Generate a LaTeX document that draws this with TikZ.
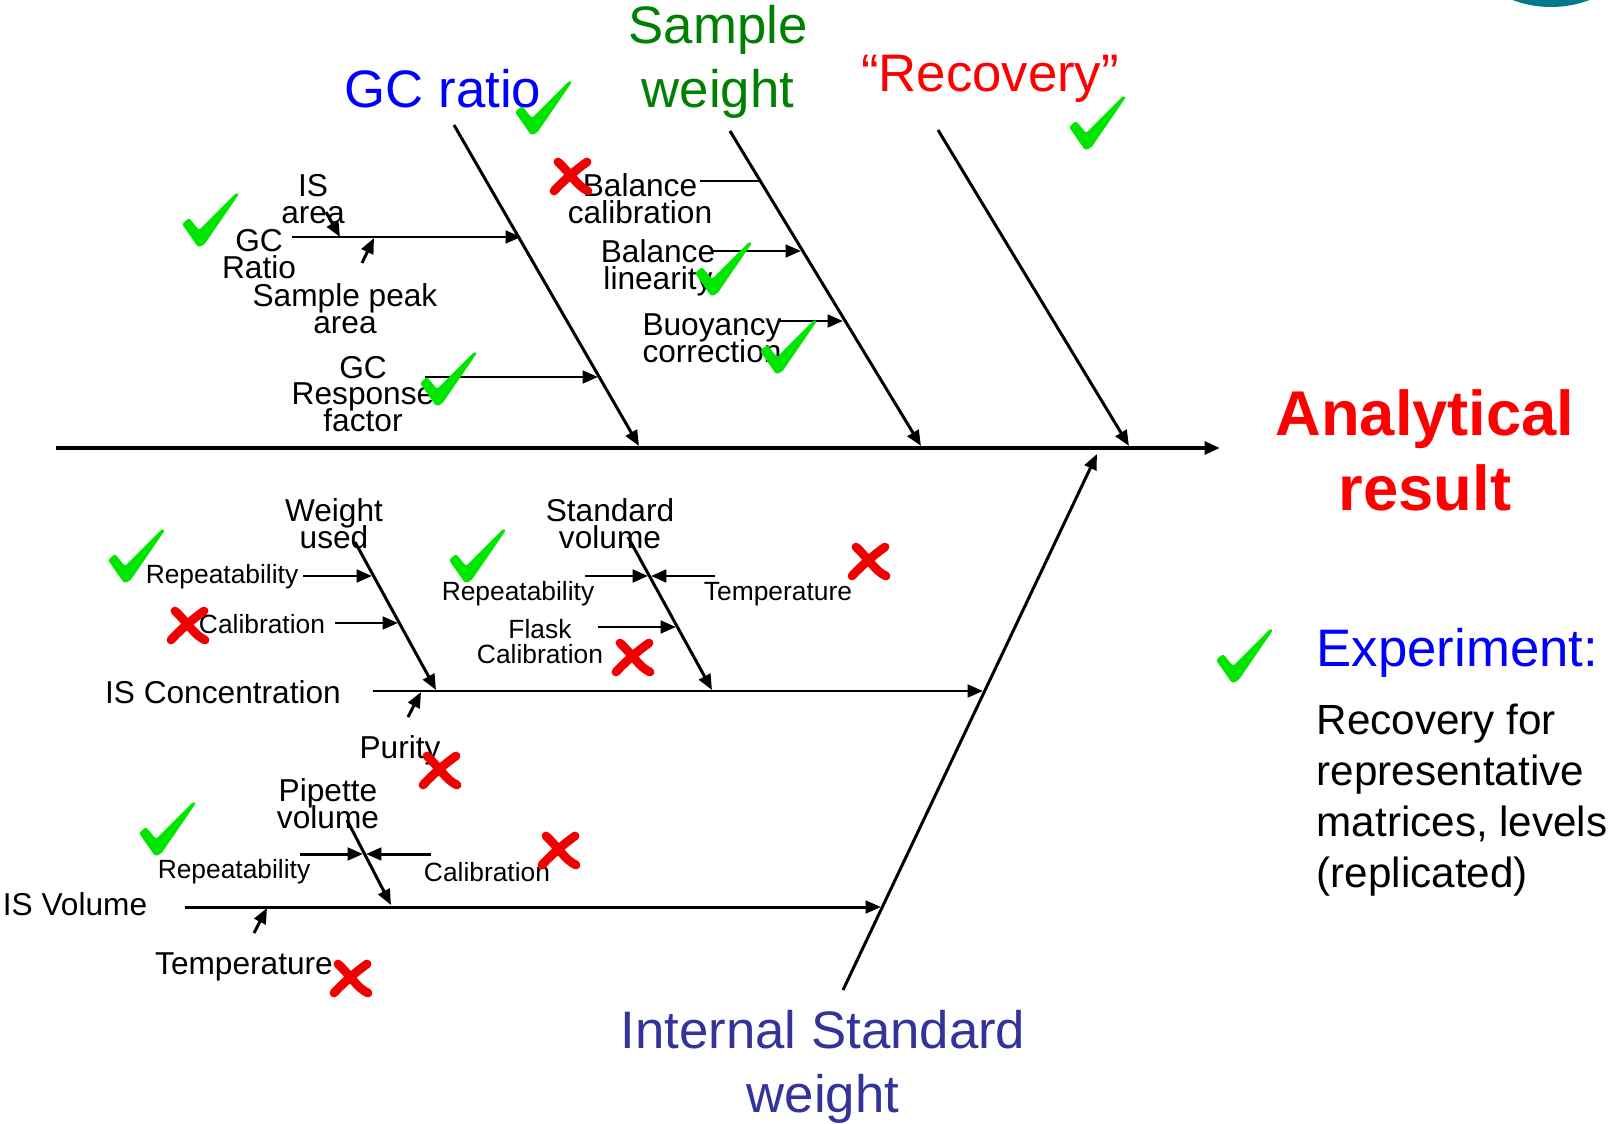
\documentclass[tikz,border=0pt]{standalone}
\usepackage{fontspec}
\setmainfont{Liberation Sans}
\usepackage{tikz}
\usetikzlibrary{arrows.meta,positioning}
\definecolor{tickgreen}{RGB}{0,230,0}
\definecolor{crossred}{RGB}{240,0,0}
\definecolor{gcblue}{RGB}{0,0,255}
\definecolor{swgreen}{RGB}{0,128,0}
\definecolor{recred}{RGB}{255,0,0}
\definecolor{isnavy}{RGB}{51,51,153}
\definecolor{logoteal}{RGB}{0,122,138}
\newcommand{\tightlines}{\lineskiplimit=-20pt\relax}
\tikzset{
	spine/.style={line width=1.15pt,->},
	bone/.style={line width=0.85pt,->},
	sub/.style={line width=0.85pt,->},
	head/.style={font=\fontsize{15}{18}\selectfont,align=center,inner sep=0pt},
	lbl/.style={font=\fontsize{9}{7.6}\selectfont\tightlines,align=center,inner sep=0pt},
	tinylbl/.style={font=\fontsize{7.5}{7.1}\selectfont\tightlines,align=center,inner sep=0pt},
	okmark/.pic={\fill[tickgreen,rounded corners=0.6pt] (-28,4) -- (-21,-2) -- (-11,10) -- (26,-27) -- (29,-26) -- (-6,25) -- (-12,27) -- cycle;},
	nomark/.pic={\draw[crossred,line width=2.5pt,line cap=round] (-13,-15) .. controls (0,-3) and (6,9) .. (17,14);
		\draw[crossred,line width=2.5pt,line cap=round] (16,-15) .. controls (6,-8) and (-8,4) .. (-17,14);}
}

\begin{document}
\begin{tikzpicture}[x=0.01cm,y=-0.01cm,>={Triangle[length=4.4pt,width=3.6pt]}]
	\useasboundingbox (0,0) rectangle (1608,1124);
	% logo corner
	\begin{scope}
		\clip (0,0) rectangle (1608,1124);
		\fill[logoteal] (1551,-102) circle (109);
	\end{scope}

	% main spine and big bones
	\coordinate (spL) at (56,448);
	\coordinate (spR) at (1220,448);
	\coordinate (gcT) at (454,125);
	\coordinate (gcB) at (639,446);
	\coordinate (swT) at (730,131);
	\coordinate (swB) at (921,446);
	\coordinate (rcT) at (938,130);
	\coordinate (rcB) at (1129,446);
	\coordinate (isB) at (843,990);
	\coordinate (isT) at (1097,454);
	\draw[spine] (spL) -- (spR);
	\draw[bone] (gcT) -- (gcB);
	\draw[bone] (swT) -- (swB);
	\draw[bone] (rcT) -- (rcB);
	\draw[bone] (isB) -- (isT);

	% headings
	\node[head,text=gcblue] (gcratio) at (443,89) {GC ratio};
	\node[head,text=swgreen] (sampwt) at (718,62) {Sample\\weight};
	\node[head,text=recred] (recov) at (990,79) {“Recovery”};
	\node[font=\bfseries\fontsize{18}{21.3}\selectfont,text=recred,align=center,inner sep=0pt] (result) at (1425,450) {Analytical\\result};
	\node[head,text=isnavy] (iswt) at (823,1067) {Internal Standard\\weight};
	\node[head,text=gcblue,anchor=west] (expt) at (1316,653) {Experiment:};
	\node[font=\fontsize{12}{14.5}\selectfont,align=left,anchor=north west,inner sep=0pt] (expbody) at (1316,703) {Recovery for\\representative\\matrices, levels\\(replicated)};

	% GC ratio branch
	\coordinate (gcrA) at (292,237);
	\coordinate (gcrZ) at (521,237);
	\coordinate (isaA) at (326,212);
	\coordinate (isaZ) at (340,237);
	\coordinate (pkA) at (362,263);
	\coordinate (pkZ) at (374,238);
	\coordinate (rfA) at (425,377);
	\coordinate (rfZ) at (598,377);
	\draw[sub] (gcrA) -- (gcrZ);
	\draw[sub] (isaA) -- (isaZ);
	\draw[sub] (pkA) -- (pkZ);
	\draw[sub] (rfA) -- (rfZ);
	\node[lbl] (isarea) at (313,199) {IS\\area};
	\node[lbl] (gcrat) at (259,254) {GC\\Ratio};
	\node[lbl] (peak) at (345,309) {Sample peak\\area};
	\node[lbl] (resp) at (363,394) {GC\\Response\\factor};

	% sample weight branch
	\coordinate (bcA) at (700,181);
	\coordinate (bcZ) at (759,181);
	\coordinate (blA) at (712,251);
	\coordinate (blZ) at (801,251);
	\coordinate (byA) at (778,321);
	\coordinate (byZ) at (843,321);
	\draw[line width=0.85pt] (bcA) -- (bcZ);
	\draw[sub] (blA) -- (blZ);
	\draw[sub] (byA) -- (byZ);
	\node[lbl] (balcal) at (640,199) {Balance\\calibration};
	\node[lbl] (ballin) at (658,268) {Balance\\linearity};
	\node[lbl] (buoy) at (712,338) {Buoyancy\\correction};

	% IS concentration branch
	\coordinate (icA) at (373,691);
	\coordinate (icZ) at (983,691);
	\coordinate (wuT) at (355,542);
	\coordinate (wuB) at (436,690);
	\coordinate (r1A) at (303,576);
	\coordinate (r1Z) at (372,576);
	\coordinate (c1A) at (335,623);
	\coordinate (c1Z) at (398,623);
	\coordinate (puA) at (408,717);
	\coordinate (puZ) at (421,692);
	\coordinate (svT) at (628,537);
	\coordinate (svB) at (712,690);
	\coordinate (r2A) at (585,576);
	\coordinate (r2Z) at (648,576);
	\coordinate (t2A) at (715,576);
	\coordinate (t2Z) at (651,576);
	\coordinate (fkA) at (598,627);
	\coordinate (fkZ) at (676,627);
	\draw[sub] (icA) -- (icZ);
	\draw[sub] (wuT) -- (wuB);
	\draw[sub] (r1A) -- (r1Z);
	\draw[sub] (c1A) -- (c1Z);
	\draw[sub] (puA) -- (puZ);
	\draw[sub] (svT) -- (svB);
	\draw[sub] (r2A) -- (r2Z);
	\draw[sub] (t2A) -- (t2Z);
	\draw[sub] (fkA) -- (fkZ);
	\node[lbl] (wtused) at (334,524) {Weight\\used};
	\node[tinylbl] (rep1) at (222,577) {Repeatability};
	\node[tinylbl] (cal1) at (262,624) {Calibration};
	\node[lbl] (iscon) at (223,692) {IS Concentration};
	\node[lbl] (purity) at (400,750) {Purity};
	\node[lbl] (stdvol) at (610,524) {Standard\\volume};
	\node[tinylbl] (rep2) at (518,594) {Repeatability};
	\node[tinylbl] (temp2) at (778,594) {Temperature};
	\node[tinylbl] (flask) at (540,642) {Flask\\Calibration};

	% IS volume branch
	\coordinate (ivA) at (185,907);
	\coordinate (ivZ) at (881,907);
	\coordinate (pvT) at (347,820);
	\coordinate (pvB) at (391,905);
	\coordinate (r3A) at (300,854);
	\coordinate (r3Z) at (363,854);
	\coordinate (c3A) at (431,854);
	\coordinate (c3Z) at (366,854);
	\coordinate (t3A) at (254,933);
	\coordinate (t3Z) at (267,908);
	\draw[sub] (ivA) -- (ivZ);
	\draw[sub] (pvT) -- (pvB);
	\draw[sub] (r3A) -- (r3Z);
	\draw[sub] (c3A) -- (c3Z);
	\draw[sub] (t3A) -- (t3Z);
	\node[lbl] (pipvol) at (328,804) {Pipette\\volume};
	\node[tinylbl] (rep3) at (234,872) {Repeatability};
	\node[tinylbl] (cal3) at (487,872) {Calibration};
	\node[lbl] (isvol) at (75,904) {IS Volume};
	\node[lbl] (temp3) at (244,967) {Temperature};

	% ticks and crosses
	\pic at (543,108) {okmark};
	\pic at (1097,123) {okmark};
	\pic at (210,220) {okmark};
	\pic at (723,269) {okmark};
	\pic at (788,347) {okmark};
	\pic at (448,379) {okmark};
	\pic at (136,556) {okmark};
	\pic at (477,556) {okmark};
	\pic at (167,829) {okmark};
	\pic at (1244,656) {okmark};
	\pic at (571,177) {nomark};
	\pic at (188,626) {nomark};
	\pic at (869,562) {nomark};
	\pic at (633,658) {nomark};
	\pic at (440,771) {nomark};
	\pic at (559,851) {nomark};
	\pic at (351,979) {nomark};
\end{tikzpicture}
\end{document}
